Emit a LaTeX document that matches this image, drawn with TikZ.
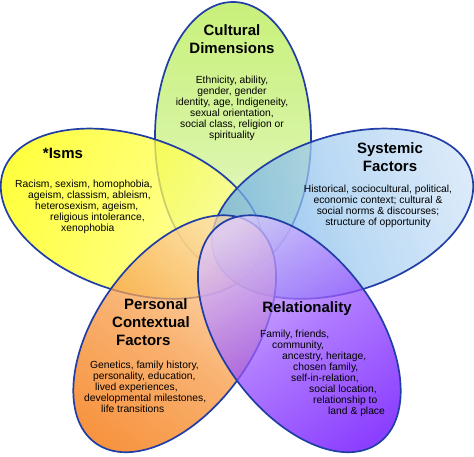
\documentclass[tikz,border=0pt]{standalone}
\usepackage{fontspec}
\setmainfont{Liberation Sans}
\usetikzlibrary{shapes.geometric}

\definecolor{bord}{RGB}{32,62,165}
\definecolor{vertA}{RGB}{228,248,202}
\definecolor{vertB}{RGB}{182,235,78}
\definecolor{jauneA}{RGB}{255,255,168}
\definecolor{jauneB}{RGB}{255,255,0}
\definecolor{bleuA}{RGB}{95,168,228}
\definecolor{bleuB}{RGB}{208,228,248}
\definecolor{orangeA}{RGB}{252,215,168}
\definecolor{orangeB}{RGB}{244,112,0}
\definecolor{violetA}{RGB}{222,202,255}
\definecolor{violetB}{RGB}{102,0,255}

\tikzset{petale/.style n args = {3}{ellipse, draw = bord, line width = 1.7pt,
                                 minimum width = 270pt, minimum height = 156pt,
                                 inner sep = 0pt, fill opacity = 0.75,
                                 bottom color = #1, top color = #2,
                                 middle color = #2!60!#1, shading angle = #3},
         titre/.style = {font = \fontsize{15}{18}\selectfont\bfseries, align = #1},
         titre/.default = center,
         texte/.style = {font = \fontsize{10.3}{11}\selectfont, align = #1, inner sep = 0pt},
         texte/.default = center
        }

\begin{document}
\begin{tikzpicture}[x=1pt, y=1pt]
  \useasboundingbox (0,0) rectangle (474,457);
  \coordinate (centre) at (237,209);

  % les cinq petales
  \node[petale={vertA}{vertB}{0}, rotate=90]        (cultural) at ([shift={(-4,111)}]centre) {};
  \node[petale={jauneA}{jauneB}{72}, rotate=162]    (isms)     at ([shift={(162:111)}]centre) {};
  \node[petale={bleuA}{bleuB}{-72}, rotate=18]      (systemic) at ([shift={(18:111)}]centre) {};
  \node[petale={orangeA}{orangeB}{144}, rotate=234] (personal) at ([shift={(234:106)}]centre) {};
  \node[petale={violetA}{violetB}{216}, rotate=306] (relation) at ([shift={(306:106)}]centre) {};

  % titres
  \node[titre] (culturalT) at (232,418) {Cultural\\Dimensions};
  \node[titre] (ismsT)     at (63,304)  {*Isms};
  \node[titre] (systemicT) at (390,300) {Systemic\\Factors};
  \node[titre=left, anchor=west, inner sep=0pt] (personalT) at (112,135)
        {\hspace*{12pt}Personal\\Contextual\\\hspace*{4pt}Factors};
  \node[titre] (relationT) at (307,148) {Relationality};

  % textes
  \node[texte] (culturalX) at (232,349) {Ethnicity,  ability,\\ gender, gender\\
        identity, age, Indigeneity,\\ sexual orientation,\\ social class, religion or\\ spirituality};
  \node[texte=left, anchor=west] (ismsX) at (15,250) {Racism,  sexism,  homophobia,\\
        \hspace*{13pt}ageism, classism, ableism,\\ \hspace*{20pt}heterosexism,  ageism,\\
        \hspace*{35pt}religious intolerance,\\ \hspace*{46pt}xenophobia};
  \node[texte] (systemicX) at (378,251) {Historical, sociocultural, political,\\
        economic context; cultural \&\\ social norms \& discourses;\\ structure of opportunity};
  \node[texte=left, anchor=west] (personalX) at (84,70) {\hspace*{6pt}Genetics, family history,\\
        \hspace*{9pt}personality, education,\\ \hspace*{11pt}lived experiences,\\
        developmental milestones,\\ \hspace*{17pt}life transitions};
  \node[texte=left, anchor=west] (relationX) at (260,84) {Family,  friends,\\
        \hspace*{12pt}community,\\ \hspace*{22pt}ancestry, heritage,\\
        \hspace*{33pt}chosen family,\\ \hspace*{31pt}self-in-relation,\\
        \hspace*{49pt}social location,\\ \hspace*{53pt}relationship  to\\
        \hspace*{68pt}land \& place};
\end{tikzpicture}
\end{document}
